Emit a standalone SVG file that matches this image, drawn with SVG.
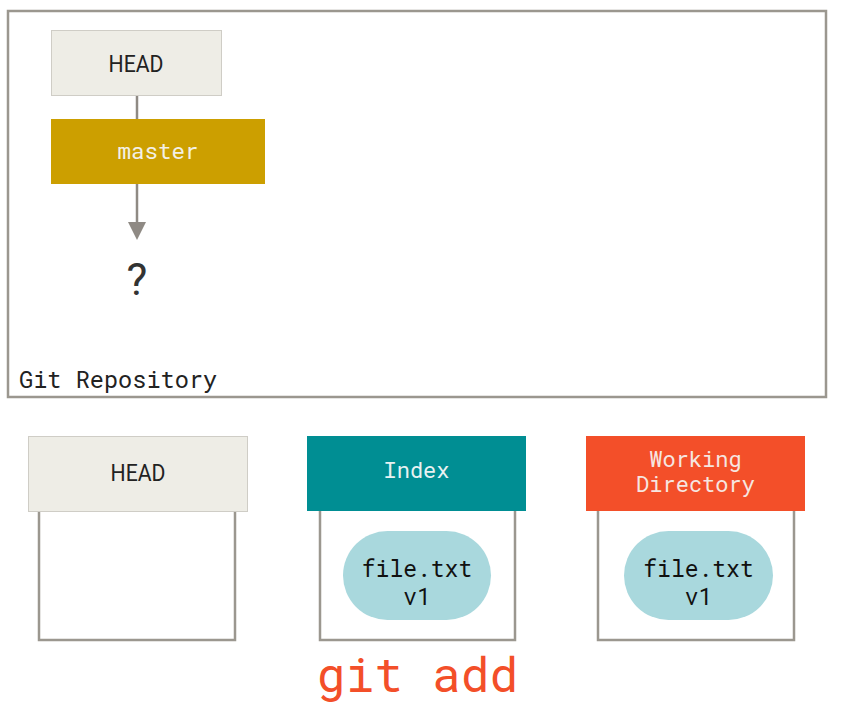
<svg xmlns="http://www.w3.org/2000/svg" width="851" height="705" viewBox="0 0 851 705">
<style>
.mono{font-family:"Roboto Mono","DejaVu Sans Mono","Liberation Mono",monospace}
.sans{font-family:Roboto,"Liberation Sans",sans-serif}
.frame{fill:#fff;stroke:#9b978f;stroke-width:2.5}
.head{fill:#eeede6;stroke:#cfcdc6;stroke-width:1}
.pill{fill:#a9d8dd}
.conn{stroke:#8f8a84;stroke-width:2.5;fill:none}
</style>
<rect width="851" height="705" fill="#fff"/>
<g id="repo">
<rect class="frame" x="8" y="11" width="818" height="386"/>
<text class="mono" x="19" y="388" font-size="23.6" fill="#222">Git Repository</text>
</g>
<g id="connectors">
<line class="conn" x1="137" y1="95" x2="137" y2="120"/>
<line class="conn" x1="137" y1="184" x2="137" y2="224"/>
<polygon points="128,222 146,222 137,240" fill="#8f8a84"/>
</g>
<g id="head-top">
<rect class="head" x="51.5" y="30.5" width="170" height="65"/>
<text class="sans" x="136" y="72" font-size="23" text-anchor="middle" fill="#222" textLength="55" lengthAdjust="spacingAndGlyphs">HEAD</text>
</g>
<g id="master">
<rect x="51" y="119" width="214" height="65" fill="#cc9f00"/>
<text class="mono" x="158" y="159" font-size="22.5" text-anchor="middle" fill="#f3f0e6">master</text>
</g>
<g id="unknown">
<text class="sans" x="137" y="295" font-size="44" text-anchor="middle" fill="#333">?</text>
</g>
<g id="head-tree">
<rect class="frame" x="39" y="500" width="196" height="140"/>
<rect class="head" x="28.5" y="436.5" width="219" height="75" stroke="none"/>
<line x1="28" y1="436.5" x2="248" y2="436.5" stroke="#cfcdc6"/>
<text class="sans" x="138" y="481" font-size="23" text-anchor="middle" fill="#222" textLength="55" lengthAdjust="spacingAndGlyphs">HEAD</text>
</g>
<g id="index">
<rect class="frame" x="320" y="500" width="195" height="140"/>
<rect x="307" y="436" width="219" height="75" fill="#008e93"/>
<text class="mono" x="416.5" y="478" font-size="22" text-anchor="middle" fill="#e8f2f2">Index</text>
<rect class="pill" x="343" y="531" width="148" height="89" rx="44.5"/>
<text class="mono" x="417" y="577" font-size="23" text-anchor="middle" fill="#111">file.txt</text>
<text class="mono" x="417" y="605" font-size="23" text-anchor="middle" fill="#111">v1</text>
</g>
<g id="working">
<rect class="frame" x="598" y="500" width="196" height="140"/>
<rect x="586" y="436" width="219" height="75" fill="#f34f29"/>
<text class="mono" x="695.5" y="467" font-size="22" text-anchor="middle" fill="#f6e6e0">Working</text>
<text class="mono" x="695.5" y="492" font-size="22" text-anchor="middle" fill="#f6e6e0">Directory</text>
<rect class="pill" x="624" y="531" width="149" height="89" rx="44.5"/>
<text class="mono" x="698.5" y="577" font-size="23" text-anchor="middle" fill="#111">file.txt</text>
<text class="mono" x="698.5" y="605" font-size="23" text-anchor="middle" fill="#111">v1</text>
</g>
<g id="command">
<text class="mono" x="417.5" y="692" font-size="48" text-anchor="middle" fill="#f34f29">git add</text>
</g>
</svg>
